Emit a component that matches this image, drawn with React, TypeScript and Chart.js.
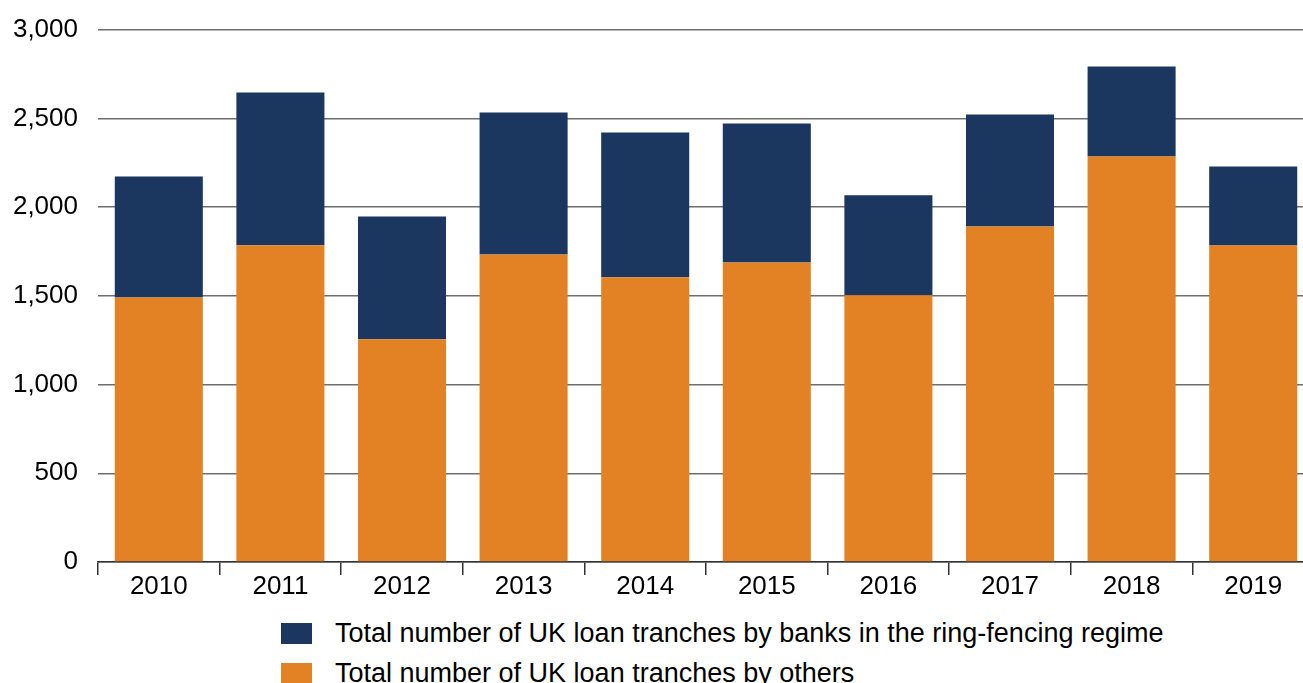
import React, { useEffect, useRef } from "react";
import { Chart, registerables } from "chart.js";

Chart.register(...registerables);

const years = ["2010", "2011", "2012", "2013", "2014", "2015", "2016", "2017", "2018", "2019"];
const others = [1490, 1785, 1255, 1733, 1604, 1688, 1503, 1891, 2285, 1784];
const ringFencedBanks = [682, 860, 692, 800, 816, 783, 563, 630, 507, 445];
const yTicks = [0, 500, 1000, 1500, 2000, 2500, 3000];

const seriesLabels = [
  "Total number of UK loan tranches by banks in the ring-fencing regime",
  "Total number of UK loan tranches by others",
];
const NAVY = "#1b365f";
const ORANGE = "#e38125";
const FONT = "'Liberation Sans', Arial, Helvetica, sans-serif";

export default function App() {
  const ref = useRef<HTMLCanvasElement | null>(null);

  useEffect(() => {
    if (!ref.current) return;
    const chart = new Chart(ref.current, {
      type: "bar",
      data: {
        labels: years,
        datasets: [
          {
            label: seriesLabels[1],
            data: others,
            backgroundColor: ORANGE,
            categoryPercentage: 1,
            barPercentage: 0.724,
          },
          {
            label: seriesLabels[0],
            data: ringFencedBanks,
            backgroundColor: NAVY,
            categoryPercentage: 1,
            barPercentage: 0.724,
          },
        ],
      },
      options: {
        animation: false,
        responsive: false,
        maintainAspectRatio: false,
        layout: { padding: { top: 0, left: 0, right: 0, bottom: 0 } },
        plugins: { legend: { display: false }, tooltip: { enabled: false } },
        scales: {
          x: {
            stacked: true,
            offset: true,
            grid: {
              offset: true,
              drawOnChartArea: false,
              drawTicks: true,
              tickLength: 13,
              color: "#333",
              lineWidth: 1.5,
            },
            border: { display: true, color: "#333", width: 1.5 },
            ticks: {
              color: "#000",
              padding: -4,
              font: { family: FONT, size: 26 },
            },
            afterFit: (s: any) => {
              s.height = 48;
            },
          },
          y: {
            stacked: true,
            min: 0,
            max: 3000,
            afterBuildTicks: (s: any) => {
              s.ticks = yTicks.map((v) => ({ value: v }));
            },
            grid: {
              drawTicks: false,
              color: "#6e6e6e",
              lineWidth: 1.5,
            },
            border: { display: false },
            ticks: {
              color: "#000",
              padding: 20,
              font: { family: FONT, size: 26 },
              callback: (v: any) => Number(v).toLocaleString("en-US"),
            },
            afterFit: (s: any) => {
              s.width = 98;
            },
          },
        },
      },
    });
    return () => chart.destroy();
  }, []);

  const legendItems = [
    { color: NAVY, label: seriesLabels[0], top: 623 },
    { color: ORANGE, label: seriesLabels[1], top: 663 },
  ];

  return (
    <div
      style={{
        position: "fixed",
        left: 0,
        top: 0,
        width: 1303,
        height: 683,
        overflow: "hidden",
        background: "#fff",
      }}
    >
      <canvas ref={ref} width={1314} height={616} style={{ position: "absolute", left: 0, top: -6, width: 1314, height: 616 }} />
      {legendItems.map((it) => (
        <div
          key={it.label}
          style={{
            position: "absolute",
            left: 281,
            top: it.top,
            height: 21,
            display: "flex",
            alignItems: "center",
            fontFamily: FONT,
            fontSize: 27,
            color: "#000",
            whiteSpace: "nowrap",
          }}
        >
          <span style={{ display: "inline-block", width: 31, height: 21, background: it.color, marginRight: 23, flexShrink: 0 }} />
          <span>{it.label}</span>
        </div>
      ))}
    </div>
  );
}
